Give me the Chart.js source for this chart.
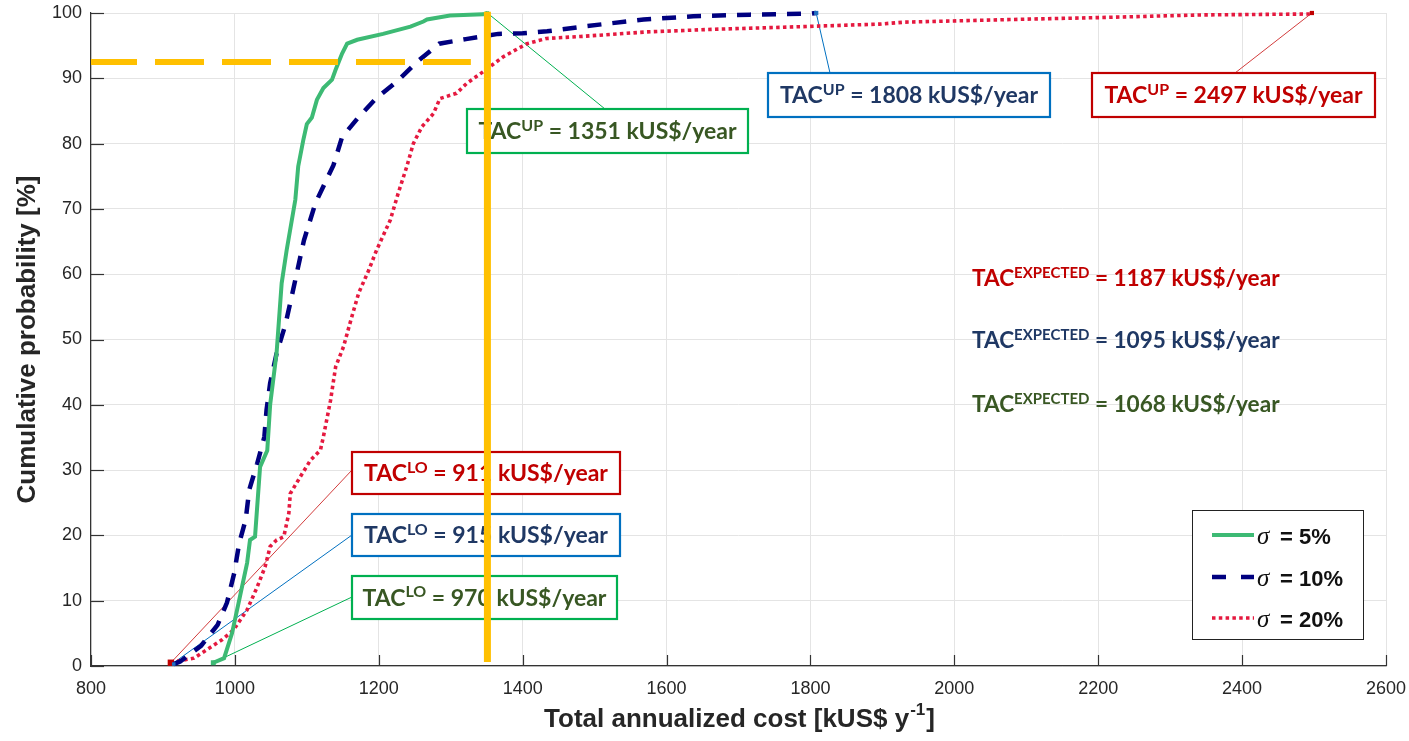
<!DOCTYPE html>
<html>
<head>
<meta charset="utf-8">
<script src="https://cdn.jsdelivr.net/npm/chart.js@4"></script>
<style>
  html, body { margin: 0; padding: 0; background: #fff; }
</style>
</head>
<body>
<canvas id="myChart" width="1409" height="741"></canvas>
<script>
// Data (cost in kUS$/y, cumulative probability in %)
const sigmaLabels = ['5%', '10%', '20%'];

const greenCost = [970, 985, 996, 1005, 1017, 1021, 1028, 1035, 1045, 1049, 1058, 1065, 1072, 1084, 1088, 1095, 1100, 1107, 1114, 1123, 1135, 1140, 1149, 1156, 1170, 1206, 1244, 1262, 1267, 1299, 1345, 1351];
const greenProb = [0.5, 1.2, 5, 9.6, 15.8, 19.3, 19.8, 30.5, 33, 40, 48, 58.6, 63.7, 71.4, 76.5, 80.5, 83, 84, 86.7, 88.5, 89.8, 91.3, 93.8, 95.3, 95.9, 96.8, 97.9, 98.7, 99, 99.6, 99.8, 100];

const blueCost = [915, 924, 953, 976, 989, 999, 1006, 1015, 1020, 1031, 1041, 1044, 1049, 1058, 1070, 1079, 1093, 1096, 1112, 1137, 1149, 1170, 1196, 1226, 1253, 1284, 1321, 1366, 1400, 1434, 1489, 1568, 1637, 1716, 1801, 1808];
const blueProb = [0.3, 0.7, 3.1, 6.3, 9.7, 14.2, 18.8, 22.4, 27, 31, 35.1, 39.2, 43.3, 47.9, 52.2, 56.6, 63.7, 65.2, 70.9, 76.7, 81, 83.8, 86.9, 89.6, 92.5, 95.3, 96, 96.8, 96.9, 97.2, 98, 99, 99.5, 99.75, 99.9, 100];

const redCost = [911, 917, 943, 961, 982, 998, 1017, 1031, 1042, 1049, 1058, 1068, 1075, 1077, 1091, 1105, 1119, 1123, 1133, 1140, 1151, 1160, 1172, 1186, 1197, 1216, 1227, 1239, 1248, 1260, 1276, 1285, 1308, 1322, 1345, 1373, 1406, 1433, 1480, 1572, 1665, 1757, 1896, 1931, 2077, 2202, 2340, 2496, 2497];
const redProb = [0.5, 0.7, 1.2, 2.5, 4, 5.5, 8.6, 12.1, 15.2, 18.3, 19.3, 19.8, 23.4, 26.4, 29, 31.5, 33.1, 35.1, 40.7, 45.8, 48.9, 52.5, 57.1, 60.6, 63.7, 68.3, 72.4, 76.5, 80, 82.6, 84.6, 86.9, 87.7, 89.2, 91, 93.3, 95.3, 96.1, 96.4, 97.1, 97.5, 97.8, 98.3, 98.6, 99, 99.3, 99.7, 99.85, 100];

// TAC values per sigma (5%, 10%, 20%)
const tacLo = [970, 915, 911];
const tacUp = [1351, 1808, 2497];
const tacExpected = [1068, 1095, 1187];

// yellow reference lines
const refCost = 1351;
const refProb = 92.5;
const refDashEnd = 1328;

const xTicks = [800, 1000, 1200, 1400, 1600, 1800, 2000, 2200, 2400, 2600];
const yTicks = [0, 10, 20, 30, 40, 50, 60, 70, 80, 90, 100];

const GREEN = '#3dba74';
const NAVY = '#00007f';
const RED = '#e5193f';
const YELLOW = '#ffc000';
const TXT = '#262626';
const SANS = '"Liberation Sans", Arial, sans-serif';
const CAL = 'Lato, "Open Sans", sans-serif';

const toXY = (xs, ys) => xs.map((x, i) => ({ x: x, y: ys[i] }));
const endMarks = (first, last) => ctx => {
  const n = ctx.dataset.data.length;
  if (ctx.dataIndex === 0) return first;
  if (ctx.dataIndex === n - 1) return last;
  return 0;
};

const series = [
  { color: GREEN, dash: [], width: 4, text: '#385723', box: '#00b050' },
  { color: NAVY, dash: [14, 11], width: 4.5, text: '#1f3864', box: '#0070c0' },
  { color: RED, dash: [3.5, 3.3], width: 3.6, text: '#c00000', box: '#c00000' }
];

// layout of the annotation boxes (pixels)
const upBoxes = [
  { x: 467, y: 109, w: 281, h: 44, ax: 605, ay: 109 },
  { x: 768, y: 73, w: 282, h: 44, ax: 830, ay: 73 },
  { x: 1092, y: 73, w: 283, h: 44, ax: 1235, ay: 73 }
];
const loBoxes = [
  { x: 352, y: 576, w: 265, h: 43, ax: 352, ay: 597 },
  { x: 352, y: 514, w: 268, h: 42, ax: 352, ay: 535 },
  { x: 352, y: 452, w: 268, h: 42, ax: 352, ay: 470 }
];
const expectedY = [404, 340, 278];
const connectorColors = ['#00b050', '#0070c0', '#d23c3c'];

function drawRich(ctx, x, y, parts, size, color) {
  ctx.save();
  ctx.fillStyle = color;
  ctx.textBaseline = 'alphabetic';
  ctx.textAlign = 'left';
  let cx = x;
  parts.forEach(p => {
    const s = p.sup ? Math.round(size * 0.68) : size;
    ctx.font = 'bold ' + s + 'px ' + CAL;
    ctx.fillText(p.t, cx, p.sup ? y - size * 0.36 : y);
    cx += ctx.measureText(p.t).width;
  });
  ctx.restore();
  return cx - x;
}
function richWidth(ctx, parts, size) {
  let w = 0;
  ctx.save();
  parts.forEach(p => {
    const s = p.sup ? Math.round(size * 0.68) : size;
    ctx.font = 'bold ' + s + 'px ' + CAL;
    w += ctx.measureText(p.t).width;
  });
  ctx.restore();
  return w;
}

const annotations = {
  id: 'annotations',
  beforeDatasetsDraw(chart) {
    const ctx = chart.ctx;
    const xs = chart.scales.x, ys = chart.scales.y;
    const area = chart.chartArea;

    // inside tick marks
    ctx.save();
    ctx.strokeStyle = '#333';
    ctx.lineWidth = 1.2;
    xTicks.forEach(v => {
      const px = Math.round(xs.getPixelForValue(v)) + 0.5;
      ctx.beginPath(); ctx.moveTo(px, area.bottom); ctx.lineTo(px, area.bottom - 11); ctx.stroke();
    });
    yTicks.forEach(v => {
      const py = Math.round(ys.getPixelForValue(v)) + 0.5;
      ctx.beginPath(); ctx.moveTo(area.left, py); ctx.lineTo(area.left + 13, py); ctx.stroke();
    });
    ctx.restore();

    const size = 23;
    const drawBox = (b, i, val, sup, fromY) => {
      const s = series[i];
      ctx.save();
      ctx.strokeStyle = connectorColors[i];
      ctx.lineWidth = 1;
      ctx.beginPath();
      ctx.moveTo(xs.getPixelForValue(val), ys.getPixelForValue(fromY));
      ctx.lineTo(b.ax, b.ay);
      ctx.stroke();
      ctx.fillStyle = '#fff';
      ctx.fillRect(b.x, b.y, b.w, b.h);
      ctx.strokeStyle = s.box;
      ctx.lineWidth = 2.2;
      ctx.strokeRect(b.x, b.y, b.w, b.h);
      ctx.restore();
      const parts = [{ t: 'TAC' }, { t: sup, sup: true }, { t: ' = ' + val + ' kUS$/year' }];
      const w = richWidth(ctx, parts, size);
      drawRich(ctx, b.x + (b.w - w) / 2, b.y + b.h / 2 + 8, parts, size, s.text);
    };
    upBoxes.forEach((b, i) => drawBox(b, i, tacUp[i], 'UP', 100));
    loBoxes.forEach((b, i) => drawBox(b, i, tacLo[i], 'LO', 0.5));

    tacExpected.forEach((v, i) => {
      drawRich(ctx, 972, expectedY[i] + 8,
        [{ t: 'TAC' }, { t: 'EXPECTED', sup: true }, { t: ' = ' + v + ' kUS$/year' }], 22.6, series[i].text);
    });
  },
  afterDraw(chart) {
    const ctx = chart.ctx;
    const area = chart.chartArea;
    // x axis title with superscript
    ctx.save();
    ctx.fillStyle = TXT;
    ctx.textBaseline = 'alphabetic';
    const main = 'Total annualized cost [kUS$ y';
    ctx.font = 'bold 26px ' + SANS;
    const w1 = ctx.measureText(main).width;
    ctx.font = 'bold 17px ' + SANS;
    const w2 = ctx.measureText('-1').width;
    ctx.font = 'bold 26px ' + SANS;
    const w3 = ctx.measureText(']').width;
    const cx = (area.left + area.right) / 2;
    let x0 = cx - (w1 + w2 + w3) / 2;
    ctx.fillText(main, x0, 727);
    ctx.font = 'bold 17px ' + SANS;
    ctx.fillText('-1', x0 + w1 + 1, 715);
    ctx.font = 'bold 26px ' + SANS;
    ctx.fillText(']', x0 + w1 + w2 + 2, 727);

    // legend
    const lx = 1192, ly = 510, lw = 171, lh = 129;
    ctx.fillStyle = '#fff';
    ctx.fillRect(lx, ly, lw, lh);
    ctx.strokeStyle = '#222';
    ctx.lineWidth = 1;
    ctx.strokeRect(lx + 0.5, ly + 0.5, lw, lh);
    const rows = [535, 577, 618];
    series.forEach((s, i) => {
      ctx.save();
      ctx.strokeStyle = s.color;
      ctx.lineWidth = s.width;
      ctx.setLineDash(i === 1 ? [14, 15] : s.dash);
      ctx.beginPath();
      ctx.moveTo(1212, rows[i]);
      ctx.lineTo(1254, rows[i]);
      ctx.stroke();
      ctx.restore();
      ctx.fillStyle = '#111';
      ctx.font = 'italic 25px "Liberation Serif", serif';
      ctx.fillText('\u03c3', 1257, rows[i] + 9);
      ctx.font = 'bold 22px ' + SANS;
      ctx.fillText('= ' + sigmaLabels[i], 1280, rows[i] + 9);
    });
    ctx.restore();
  }
};

const datasets = [
  {
    // vertical yellow line
    data: [{ x: refCost, y: 0.6 }, { x: refCost, y: 100.2 }],
    borderColor: YELLOW, borderWidth: 7, pointRadius: 0, clip: false, borderCapStyle: 'butt'
  },
  {
    // horizontal dashed yellow line
    data: [{ x: 800, y: refProb }, { x: refDashEnd, y: refProb }],
    borderColor: YELLOW, borderWidth: 6, borderDash: [49, 18], borderDashOffset: 3,
    pointRadius: 0, clip: false, borderCapStyle: 'butt'
  },
  {
    label: sigmaLabels[0], data: toXY(greenCost, greenProb),
    borderColor: GREEN, backgroundColor: GREEN, borderWidth: series[0].width,
    pointStyle: 'rect', pointRadius: endMarks(3.5, 2.5), pointBorderWidth: 0, clip: false
  },
  {
    label: sigmaLabels[1], data: toXY(blueCost, blueProb),
    borderColor: NAVY, backgroundColor: '#1f6fc0', borderWidth: series[1].width, borderDash: series[1].dash,
    pointStyle: 'rect', pointRadius: endMarks(2.5, 3), pointBorderWidth: 0, clip: false
  },
  {
    label: sigmaLabels[2], data: toXY(redCost, redProb),
    borderColor: RED, backgroundColor: '#c00000', borderWidth: series[2].width, borderDash: series[2].dash,
    pointStyle: 'rect', pointRadius: endMarks(4.5, 3), pointBorderWidth: 0, clip: false
  }
];

const noPad = s => { s.paddingTop = 0; s.paddingBottom = 0; s.paddingLeft = 0; s.paddingRight = 0; };

const config = {
  type: 'line',
  data: { datasets: datasets },
  options: {
    responsive: false,
    animation: false,
    devicePixelRatio: 1,
    layout: { padding: { left: 0, top: 13, right: 23, bottom: 0 } },
    elements: { line: { tension: 0 } },
    plugins: {
      legend: { display: false },
      tooltip: { enabled: false }
    },
    scales: {
      x: {
        type: 'linear', min: 800, max: 2600,
        ticks: { stepSize: 200, color: TXT, font: { family: SANS, size: 18 }, padding: 12, maxRotation: 0,
          callback: v => String(v) },
        grid: { color: '#e4e4e4', drawTicks: false },
        border: { color: '#333', width: 1.2 },
        afterFit: s => { s.height = 75; noPad(s); }
      },
      y: {
        min: 0, max: 100,
        ticks: { stepSize: 10, color: TXT, font: { family: SANS, size: 18 }, padding: 9,
          callback: v => String(v) },
        grid: { color: '#e4e4e4', drawTicks: false },
        border: { color: '#333', width: 1.2 },
        title: {
          display: true, text: 'Cumulative probability [%]', color: TXT,
          font: { family: SANS, size: 26, weight: 'bold' }, padding: { top: 12, bottom: 0 }
        },
        afterFit: s => { s.width = 91; noPad(s); }
      }
    }
  },
  plugins: [annotations]
};

const myChart = new Chart(document.getElementById('myChart'), config);
</script>
</body>
</html>
